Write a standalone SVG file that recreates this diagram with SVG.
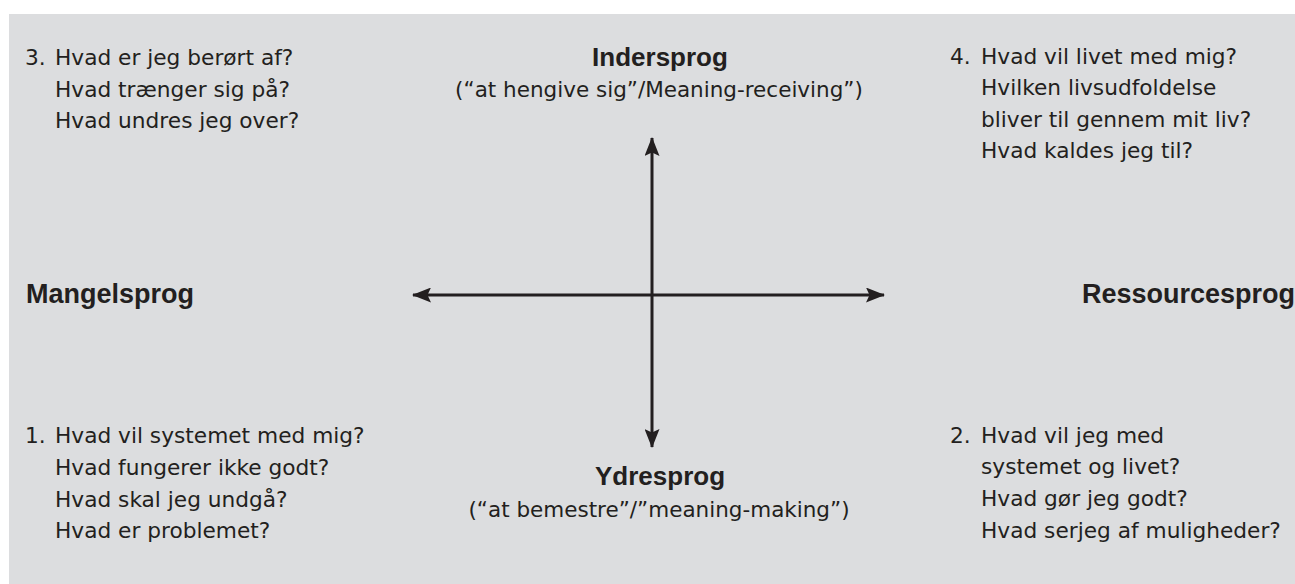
<svg xmlns="http://www.w3.org/2000/svg" width="1295" height="584" viewBox="0 0 1295 584">
  <defs>
    <marker id="ah" viewBox="0 0 19 15" refX="18" refY="7.5" markerWidth="19" markerHeight="15" markerUnits="userSpaceOnUse" orient="auto-start-reverse">
      <path d="M0,0 L19,7.5 L0,15 L3.5,7.5 z" fill="#231f20"/>
    </marker>
    <style>
      .q { font-family: "DejaVu Sans", "Liberation Sans", sans-serif; font-size: 21.7px; fill: #231f20; }
      .sub { font-family: "DejaVu Sans", "Liberation Sans", sans-serif; font-size: 21.5px; fill: #231f20; text-anchor: middle; }
      .hd { font-family: "Liberation Sans", Arial, sans-serif; font-weight: bold; font-size: 26px; fill: #231f20; }
      .side { font-size: 27px; }
      .hdc { text-anchor: middle; }
      .axis { stroke: #231f20; stroke-width: 3; fill: none; marker-start: url(#ah); marker-end: url(#ah); }
    </style>
  </defs>
  <rect x="0" y="0" width="1295" height="584" fill="#ffffff"/>
  <rect x="9" y="14" width="1286" height="570" fill="#dcdddf"/>

  <g id="connectors">
    <line class="axis" x1="413" y1="295" x2="884" y2="295"/>
    <line class="axis" x1="652" y1="138" x2="652" y2="447"/>
  </g>

  <g id="indersprog">
    <text class="hd hdc" x="660" y="66">Indersprog</text>
    <text class="sub" x="659" y="97">(“at hengive sig”/Meaning-receiving”)</text>
  </g>

  <g id="ydresprog">
    <text class="hd hdc" x="660" y="485">Ydresprog</text>
    <text class="sub" x="659" y="517">(“at bemestre”/”meaning-making”)</text>
  </g>

  <g id="mangelsprog">
    <text class="hd side" x="26" y="303">Mangelsprog</text>
  </g>

  <g id="ressourcesprog">
    <text class="hd side" x="1082" y="303">Ressourcesprog</text>
  </g>

  <g id="q3">
    <text class="q" x="25" y="65">3.</text>
    <text class="q">
      <tspan x="55" y="65">Hvad er jeg berørt af?</tspan>
      <tspan x="55" y="97">Hvad trænger sig på?</tspan>
      <tspan x="55" y="128">Hvad undres jeg over?</tspan>
    </text>
  </g>

  <g id="q4">
    <text class="q" x="950" y="64">4.</text>
    <text class="q">
      <tspan x="981" y="64">Hvad vil livet med mig?</tspan>
      <tspan x="981" y="95">Hvilken livsudfoldelse</tspan>
      <tspan x="981" y="127">bliver til gennem mit liv?</tspan>
      <tspan x="981" y="158">Hvad kaldes jeg til?</tspan>
    </text>
  </g>

  <g id="q1">
    <text class="q" x="25" y="443">1.</text>
    <text class="q">
      <tspan x="55" y="443">Hvad vil systemet med mig?</tspan>
      <tspan x="55" y="475">Hvad fungerer ikke godt?</tspan>
      <tspan x="55" y="507">Hvad skal jeg undgå?</tspan>
      <tspan x="55" y="538">Hvad er problemet?</tspan>
    </text>
  </g>

  <g id="q2">
    <text class="q" x="950" y="443">2.</text>
    <text class="q">
      <tspan x="981" y="443">Hvad vil jeg med</tspan>
      <tspan x="981" y="474">systemet og livet?</tspan>
      <tspan x="981" y="506">Hvad gør jeg godt?</tspan>
      <tspan x="981" y="538">Hvad serjeg af muligheder?</tspan>
    </text>
  </g>
</svg>
